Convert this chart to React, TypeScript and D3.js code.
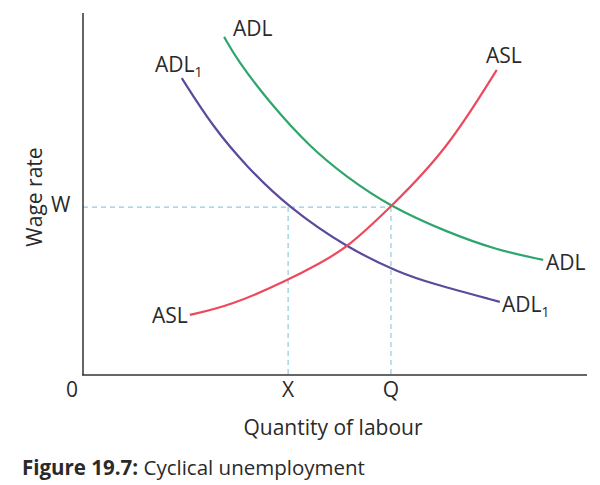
import React from "react";
import * as d3 from "d3";

// Data in chart units (x: quantity of labour 0-100, y: wage rate 0-100)
const adlX = [28.0, 30.6, 37.1, 45.0, 52.0, 61.1, 72.2, 82.1, 91.3];
const adlY = [93.4, 87.0, 75.1, 63.0, 55.0, 46.4, 39.5, 34.5, 31.8];
const adl1X = [19.6, 25.8, 32.5, 40.7, 52.4, 62.9, 68.9, 82.7];
const adl1Y = [82.0, 68.5, 57.5, 46.4, 35.1, 28.2, 25.4, 20.2];
const aslX = [21.2, 29.2, 40.7, 47.0, 52.4, 61.1, 72.2, 82.1];
const aslY = [16.6, 19.1, 26.2, 30.9, 35.1, 46.4, 62.2, 84.3];
const wageW = 46.4;
const qtyX = 40.7;
const qtyQ = 61.1;
const xTickLabels = ["0", "X", "Q"];

const FONT = "'Open Sans', 'Lato', sans-serif";
const TXT = "#2a2a2a";
const FS = 21;

export default function App() {
  const x = d3.scaleLinear().domain([0, 100]).range([83, 587]);
  const y = d3.scaleLinear().domain([0, 100]).range([375, 13]);
  const line = d3
    .line<[number, number]>()
    .x((d) => x(d[0]))
    .y((d) => y(d[1]))
    .curve(d3.curveBasis);
  const pts = (xs: number[], ys: number[]) => xs.map((v, i) => [v, ys[i]] as [number, number]);

  const adl = pts(adlX, adlY);
  const adl1 = pts(adl1X, adl1Y);
  const asl = pts(aslX, aslY);

  const sub = (base: string, px: number, py: number) => (
    <text x={px} y={py} fontFamily={FONT} fontSize={FS} fill={TXT}>
      {base}
      <tspan fontSize={14} dy={5}>1</tspan>
    </text>
  );

  return (
    <svg width={600} height={485} style={{ position: "absolute", left: 0, top: 0, background: "#fff" }}>
      {/* dashed guides */}
      <g stroke="#8ecbdc" strokeWidth={1.2} strokeDasharray="5,4" fill="none">
        <line x1={x(0)} x2={x(qtyQ)} y1={y(wageW)} y2={y(wageW)} />
        <line x1={x(qtyX)} x2={x(qtyX)} y1={y(wageW)} y2={y(0)} />
        <line x1={x(qtyQ)} x2={x(qtyQ)} y1={y(wageW)} y2={y(0)} />
      </g>
      {/* axes */}
      <line x1={x(0)} x2={x(0)} y1={y(100)} y2={y(0)} stroke="#333" strokeWidth={1.5} />
      <line x1={x(0) - 1} x2={x(100)} y1={y(0)} y2={y(0)} stroke="#333" strokeWidth={1.5} />
      {/* curves */}
      <path d={line(adl) || ""} fill="none" stroke="#2fa56e" strokeWidth={2.2} />
      <path d={line(adl1) || ""} fill="none" stroke="#5a4b9c" strokeWidth={2.2} />
      <path d={line(asl) || ""} fill="none" stroke="#ec4a5c" strokeWidth={2.2} />
      {/* curve labels */}
      <text x={233} y={36} fontFamily={FONT} fontSize={FS} fill={TXT}>ADL</text>
      {sub("ADL", 155, 72)}
      <text x={486} y={63} fontFamily={FONT} fontSize={FS} fill={TXT}>ASL</text>
      <text x={152} y={323} fontFamily={FONT} fontSize={FS} fill={TXT}>ASL</text>
      <text x={546} y={270} fontFamily={FONT} fontSize={FS} fill={TXT}>ADL</text>
      {sub("ADL", 502, 312)}
      {/* axis labels */}
      <text x={51} y={212} fontFamily={FONT} fontSize={FS} fill={TXT}>W</text>
      {[0, qtyX, qtyQ].map((v, i) => (
        <text key={i} x={i === 0 ? 72 : x(v)} y={397} fontFamily={FONT} fontSize={FS} fill={TXT} textAnchor="middle">
          {xTickLabels[i]}
        </text>
      ))}
      <text x={333} y={435} fontFamily={FONT} fontSize={FS} fill={TXT} textAnchor="middle">Quantity of labour</text>
      <text transform="translate(42,197) rotate(-90)" fontFamily={FONT} fontSize={FS} fill={TXT} textAnchor="middle">Wage rate</text>
      <text x={22} y={475} fontFamily={FONT} fontSize={20.5} fill={TXT}>
        <tspan fontWeight="bold">Figure 19.7:</tspan> Cyclical unemployment
      </text>
    </svg>
  );
}
